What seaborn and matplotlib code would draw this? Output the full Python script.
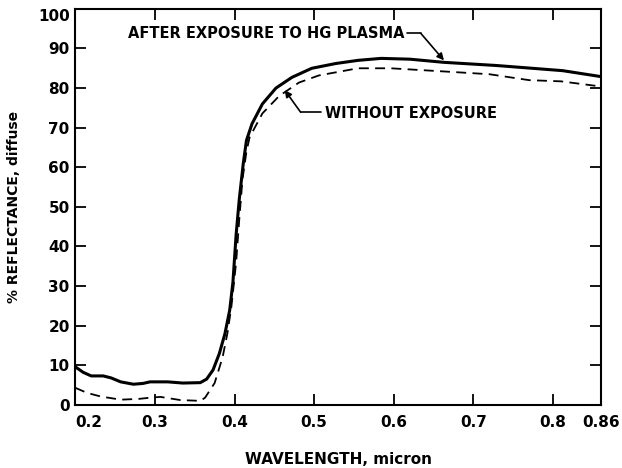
"""Diffuse reflectance before and after Hg plasma exposure."""

import matplotlib
matplotlib.use("Agg")
import matplotlib.pyplot as plt
import seaborn as sns
import pandas as pd

# Curve: after exposure to Hg plasma (solid)
after_wl = [0.200, 0.210, 0.220, 0.235, 0.245, 0.257, 0.273, 0.285, 0.294, 0.316,
            0.335, 0.357, 0.365, 0.373, 0.381, 0.388, 0.394, 0.398, 0.402, 0.406,
            0.411, 0.415, 0.422, 0.435, 0.452, 0.472, 0.497, 0.527, 0.555, 0.584,
            0.620, 0.663, 0.729, 0.812, 0.860]
after_refl = [9.6, 8.2, 7.3, 7.3, 6.8, 5.8, 5.2, 5.4, 5.8, 5.8,
              5.5, 5.6, 6.5, 8.8, 13.0, 18.0, 24.0, 31.0, 43.0, 52.0,
              61.0, 66.8, 71.0, 76.0, 80.0, 82.7, 85.0, 86.2, 87.0, 87.5,
              87.3, 86.5, 85.7, 84.4, 82.9]

# Curve without exposure (dashed)
before_wl = [0.200, 0.215, 0.232, 0.257, 0.280, 0.294, 0.307, 0.332, 0.357, 0.363,
             0.375, 0.385, 0.391, 0.396, 0.402, 0.406, 0.410, 0.415, 0.419, 0.435,
             0.456, 0.481, 0.506, 0.555, 0.596, 0.663, 0.720, 0.770, 0.810, 0.860]
before_refl = [4.3, 3.0, 2.1, 1.3, 1.5, 1.8, 2.0, 1.2, 1.0, 1.8,
               5.5, 12.0, 18.0, 24.7, 36.0, 47.0, 57.0, 64.0, 67.6, 73.6,
               78.0, 81.4, 83.2, 85.0, 85.0, 84.2, 83.5, 82.0, 81.7, 80.4]

x_ticks = [0.2, 0.3, 0.4, 0.5, 0.6, 0.7, 0.8, 0.86]
x_tick_labels = ["0.2", "0.3", "0.4", "0.5", "0.6", "0.7", "0.8", "0.86"]
y_ticks = list(range(0, 101, 10))

sns.set_style("ticks")
plt.rcParams['font.family'] = ['DejaVu Sans']
plt.rcParams['text.color'] = 'black'
plt.rcParams['axes.labelcolor'] = 'black'

after_df = pd.DataFrame({'wavelength': after_wl, 'reflectance': after_refl})
before_df = pd.DataFrame({'wavelength': before_wl, 'reflectance': before_refl})

fig = plt.figure(figsize=(6.22, 4.68), dpi=100)
ax = fig.add_axes([0.121, 0.135, 0.845, 0.846])

sns.lineplot(data=after_df, x='wavelength', y='reflectance', ax=ax,
             color='black', linewidth=2.2, sort=False)
sns.lineplot(data=before_df, x='wavelength', y='reflectance', ax=ax,
             color='black', linewidth=1.3, sort=False, linestyle=(0, (5.5, 3.5)))

ax.set_xlim(0.2, 0.86)
ax.set_ylim(0, 100)
ax.set_xticks(x_ticks)
ax.set_xticklabels(x_tick_labels, fontsize=11, fontweight='bold')
ax.set_yticks(y_ticks)
ax.set_yticklabels([str(v) for v in y_ticks], fontsize=11, fontweight='bold')
ax.xaxis.get_ticklabels()[0].set_horizontalalignment('left')
ax.yaxis.get_ticklabels()[-1].set_verticalalignment('top')

ax.tick_params(direction='in', length=8, width=1.3, top=True, right=True,
               labelcolor='black', color='black')
ax.tick_params(axis='x', pad=7)
ax.tick_params(axis='y', pad=4)
ax.xaxis.set_ticks_position('both')
ax.yaxis.set_ticks_position('both')
ax.tick_params(labeltop=False, labelright=False)
for spine in ax.spines.values():
    spine.set_visible(True)
    spine.set_linewidth(1.5)
    spine.set_color('black')

ax.set_xlabel('WAVELENGTH, micron', fontsize=11, fontweight='semibold', labelpad=16)
ax.set_ylabel('% REFLECTANCE, diffuse', fontsize=10, fontweight='semibold', labelpad=12)

# Annotations with bent leader arrows
ax.text(0.614, 93.8, 'AFTER EXPOSURE TO HG PLASMA', fontsize=10.5,
        fontweight='semibold', ha='right', va='center')
ax.plot([0.617, 0.634], [93.8, 93.8], color='black', linewidth=1.2)
ax.annotate('', xy=(0.663, 87.0), xytext=(0.634, 93.8),
            arrowprops=dict(arrowstyle='-|>', color='black', lw=1.2,
                            mutation_scale=10, shrinkA=0, shrinkB=0))

ax.text(0.513, 73.6, 'WITHOUT EXPOSURE', fontsize=10.5,
        fontweight='semibold', ha='left', va='center')
ax.plot([0.508, 0.483], [73.9, 73.9], color='black', linewidth=1.2)
ax.annotate('', xy=(0.463, 79.5), xytext=(0.483, 73.9),
            arrowprops=dict(arrowstyle='-|>', color='black', lw=1.2,
                            mutation_scale=10, shrinkA=0, shrinkB=0))

fig.savefig('out.png', dpi=100)
plt.close(fig)
